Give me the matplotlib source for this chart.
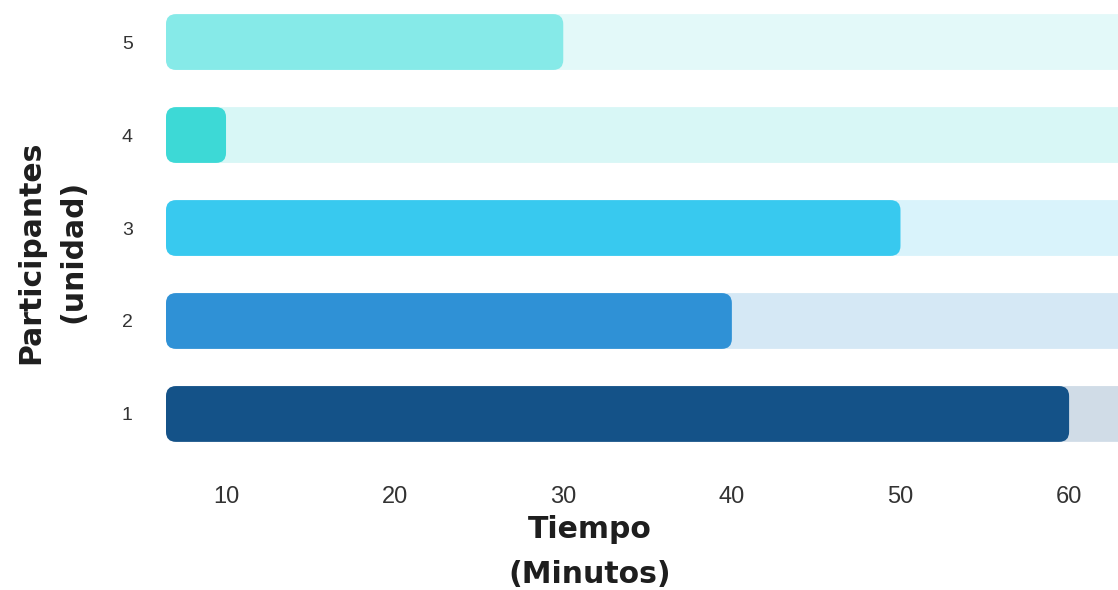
import matplotlib
matplotlib.use("Agg")
import matplotlib.pyplot as plt
from matplotlib.patches import FancyBboxPatch

participants = [1, 2, 3, 4, 5]
minutes = [60, 40, 50, 10, 30]
bar_colors = ["#145288", "#2F91D6", "#38C9EF", "#3DD9D6", "#86EAE8"]
track_colors = ["#D0DCE7", "#D5E8F5", "#D9F3FB", "#D8F7F6", "#E3F9F9"]
x_ticks = [10, 20, 30, 40, 50, 60]

W, H = 1118, 590
fig = plt.figure(figsize=(W / 100, H / 100), dpi=100)
ax_left, ax_right, ax_top, ax_bottom = 166, 1118, 0, 460
ax = fig.add_axes([ax_left / W, 1 - ax_bottom / H,
                   (ax_right - ax_left) / W, (ax_bottom - ax_top) / H])

x0, x1 = 6.44, 62.9
y0, y1 = 0.505, 5.452
ax.set_xlim(x0, x1)
ax.set_ylim(y0, y1)

# rounded corners of ~10 px regardless of the unequal data scales
px_per_x = (ax_right - ax_left) / (x1 - x0)
px_per_y = (ax_bottom - ax_top) / (y1 - y0)
aspect = px_per_x / px_per_y
radius = 10 / px_per_x
bar_h = 0.6

for p, v, c, tc in zip(participants, minutes, bar_colors, track_colors):
    track = FancyBboxPatch((x0, p - bar_h / 2), (x1 + 5) - x0, bar_h,
                           boxstyle=f"round,pad=0,rounding_size={radius}",
                           mutation_aspect=aspect, facecolor=tc,
                           edgecolor="none", clip_on=True)
    ax.add_patch(track)
    bar = FancyBboxPatch((x0, p - bar_h / 2), v - x0, bar_h,
                         boxstyle=f"round,pad=0,rounding_size={radius}",
                         mutation_aspect=aspect, facecolor=c,
                         edgecolor="none")
    ax.add_patch(bar)

for s in ax.spines.values():
    s.set_visible(False)
ax.set_xticks(x_ticks)
ax.set_xticklabels([str(t) for t in x_ticks])
ax.set_yticks(participants)
ax.set_yticklabels([str(p) for p in participants])
ax.tick_params(axis="both", length=0, colors="#333333")
ax.tick_params(axis="x", labelsize=17, pad=19)
ax.tick_params(axis="y", labelsize=14, pad=24)
for lbl in ax.get_xticklabels() + ax.get_yticklabels():
    lbl.set_fontfamily("Liberation Sans")

label_kw = dict(fontsize=21.5, fontweight="bold", family="DejaVu Sans",
                color="#1E1E1E")
fig.text(590 / W, 1 - 538 / H, "Tiempo", ha="center", va="baseline", **label_kw)
fig.text(590 / W, 1 - 583 / H, "(Minutos)", ha="center", va="baseline", **label_kw)
fig.text(31 / W, 1 - 252 / H, "Participantes", ha="center", va="center",
         rotation=90, **label_kw)
fig.text(73 / W, 1 - 251 / H, "(unidad)", ha="center", va="center",
         rotation=90, **label_kw)

fig.savefig("out.png", dpi=100)
